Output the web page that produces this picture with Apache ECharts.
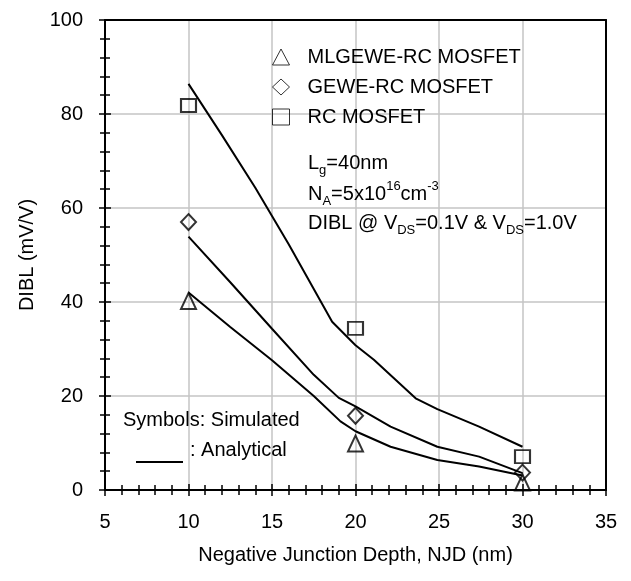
<!DOCTYPE html>
<html>
<head>
<meta charset="utf-8">
<script src="https://cdn.jsdelivr.net/npm/echarts@6/dist/echarts.min.js"></script>
<style>
  html, body { margin: 0; padding: 0; background: #fff; }
  #chart { width: 631px; height: 581px; }
</style>
</head>
<body>
<div id="chart"></div>
<script>
// simulated points (symbols)
var simX = [10, 20, 30];
var mlgeweSim = [40.2, 9.9, 1.6];
var geweSim = [57.0, 15.8, 3.7];
var rcSim = [81.8, 34.4, 7.1];

// analytical curves (lines)
var rcLineX = [10, 12, 14, 16, 18.6, 20, 21.1, 23.6, 24.9, 27.4, 30];
var rcLineY = [86.4, 75.5, 64.3, 52.3, 35.8, 30.8, 27.7, 19.5, 17.2, 13.5, 9.2];
var geweLineX = [10, 12.5, 15, 17.5, 19, 20, 22.1, 24.9, 27.4, 30];
var geweLineY = [53.9, 44.2, 34.3, 24.5, 19.6, 17.8, 13.5, 9.2, 7.1, 3.6];
var mlgeweLineX = [10, 12.5, 15, 17.5, 19.1, 20, 22.1, 24.9, 27.4, 30];
var mlgeweLineY = [42.0, 34.7, 27.6, 20.0, 14.6, 12.5, 9.2, 6.4, 5.0, 3.1];

var xTicks = { min: 5, max: 35, interval: 5 };
var yTicks = { min: 0, max: 100, interval: 20 };

var FONT = 'Liberation Sans, Arial, sans-serif';

function pairs(xs, ys) {
  return xs.map(function (x, i) { return [x, ys[i]]; });
}

var hollow = { color: 'rgba(255,255,255,0)', borderColor: '#000', borderWidth: 2 };
var legendIcon = { color: 'rgba(255,255,255,0)', borderColor: '#000', borderWidth: 1 };
var tickLine = { color: '#000', width: 1.5 };

// border-only axis (top / right frame)
function frameAxis(pos, t) {
  return {
    type: 'value', position: pos,
    min: t.min, max: t.max, interval: t.interval,
    axisLine: { show: true, onZero: false, lineStyle: { color: '#000', width: 2 } },
    axisTick: { show: false }, axisLabel: { show: false }, splitLine: { show: false }
  };
}
// inward ticks, so the ticks cross the axis line like in the original
function innerTickAxis(pos, t) {
  return {
    type: 'value', position: pos, offset: 0,
    min: t.min, max: t.max, interval: t.interval,
    axisLine: { show: false },
    axisTick: { show: true, inside: true, length: 6, lineStyle: tickLine },
    minorTick: { show: true, splitNumber: 5, length: 5, lineStyle: tickLine },
    axisLabel: { show: false }, splitLine: { show: false }
  };
}

var chart = echarts.init(document.getElementById('chart'));

var option = {
  backgroundColor: '#fff',
  animation: false,
  textStyle: { fontFamily: FONT, color: '#000' },
  grid: {
    left: 105, right: 25, top: 20, bottom: 91,
    show: false
  },
  legend: {
    orient: 'vertical',
    left: 267,
    top: 42,
    itemWidth: 17,
    itemHeight: 16,
    itemGap: 10,
    textStyle: { fontSize: 20, fontFamily: FONT, color: '#000', padding: [0, 0, 0, 13] },
    data: [
      { name: 'MLGEWE-RC MOSFET', icon: 'triangle', itemStyle: legendIcon },
      { name: 'GEWE-RC MOSFET', icon: 'diamond', itemStyle: legendIcon },
      { name: 'RC MOSFET', icon: 'rect', itemStyle: legendIcon }
    ]
  },
  xAxis: [{
    type: 'value',
    min: xTicks.min, max: xTicks.max, interval: xTicks.interval,
    name: 'Negative Junction Depth, NJD (nm)',
    nameLocation: 'middle',
    nameGap: 55,
    nameTextStyle: { fontSize: 20, fontFamily: FONT, color: '#000' },
    axisLine: { show: true, onZero: false, lineStyle: { color: '#000', width: 2 } },
    axisTick: { show: true, inside: false, length: 6, lineStyle: tickLine },
    minorTick: { show: true, splitNumber: 5, length: 5, lineStyle: tickLine },
    axisLabel: { fontSize: 20, fontFamily: FONT, color: '#000', margin: 22 },
    splitLine: { show: true, lineStyle: { color: '#c4c4c4', width: 1.5 } }
  },
    frameAxis('top', xTicks),
    innerTickAxis('bottom', xTicks)
  ],
  yAxis: [{
    type: 'value',
    min: yTicks.min, max: yTicks.max, interval: yTicks.interval,
    name: 'DIBL (mV/V)',
    nameLocation: 'middle',
    nameGap: 68,
    nameTextStyle: { fontSize: 20, fontFamily: FONT, color: '#000' },
    axisLine: { show: true, onZero: false, lineStyle: { color: '#000', width: 2 } },
    axisTick: { show: true, inside: false, length: 6, lineStyle: tickLine },
    minorTick: { show: true, splitNumber: 5, length: 5, lineStyle: tickLine },
    axisLabel: { fontSize: 20, fontFamily: FONT, color: '#000', margin: 22 },
    splitLine: { show: true, lineStyle: { color: '#c4c4c4', width: 1.5 } }
  },
    frameAxis('right', yTicks),
    innerTickAxis('left', yTicks)
  ],
  series: [
    {
      name: 'RC line', type: 'line', data: pairs(rcLineX, rcLineY),
      showSymbol: false, lineStyle: { color: '#000', width: 2 }, z: 3
    },
    {
      name: 'GEWE line', type: 'line', data: pairs(geweLineX, geweLineY),
      showSymbol: false, lineStyle: { color: '#000', width: 2 }, z: 3
    },
    {
      name: 'MLGEWE line', type: 'line', data: pairs(mlgeweLineX, mlgeweLineY),
      showSymbol: false, lineStyle: { color: '#000', width: 2 }, z: 3
    },
    {
      name: 'MLGEWE-RC MOSFET', type: 'scatter', data: pairs(simX, mlgeweSim),
      symbol: 'triangle', symbolSize: [15, 16], itemStyle: hollow, z: 4
    },
    {
      name: 'GEWE-RC MOSFET', type: 'scatter', data: pairs(simX, geweSim),
      symbol: 'diamond', symbolSize: [15, 16], itemStyle: hollow, z: 4
    },
    {
      name: 'RC MOSFET', type: 'scatter', data: pairs(simX, rcSim),
      symbol: 'rect', symbolSize: [15, 13], itemStyle: hollow, z: 4
    }
  ],
  graphic: [
    {
      type: 'text', left: 308, top: 153, z: 10,
      style: {
        text: '{n|L}{sub|g}{n|=40nm}',
        rich: {
          n: { fontSize: 20, lineHeight: 28, fontFamily: FONT, fill: '#000' },
          sub: { fontSize: 13, lineHeight: 13, verticalAlign: 'bottom', fontFamily: FONT, fill: '#000' }
        }
      }
    },
    {
      type: 'text', left: 308, top: 180, z: 10,
      style: {
        text: '{n|N}{sub|A}{n|=5x10}{sup|16}{n|cm}{sup|-3}',
        rich: {
          n: { fontSize: 20, lineHeight: 28, fontFamily: FONT, fill: '#000' },
          sub: { fontSize: 13, lineHeight: 13, verticalAlign: 'bottom', fontFamily: FONT, fill: '#000' },
          sup: { fontSize: 13, lineHeight: 13, verticalAlign: 'top', fontFamily: FONT, fill: '#000' }
        }
      }
    },
    {
      type: 'text', left: 308, top: 213, z: 10,
      style: {
        text: '{n|DIBL @ V}{sub|DS}{n|=0.1V & V}{sub|DS}{n|=1.0V}',
        rich: {
          n: { fontSize: 20, lineHeight: 28, fontFamily: FONT, fill: '#000' },
          sub: { fontSize: 13, lineHeight: 13, verticalAlign: 'bottom', fontFamily: FONT, fill: '#000' }
        }
      }
    },
    {
      type: 'text', left: 123, top: 410, z: 10,
      style: { text: 'Symbols: Simulated', font: '20px ' + FONT, fill: '#000' }
    },
    {
      type: 'text', left: 190, top: 440, z: 10,
      style: { text: ': Analytical', font: '20px ' + FONT, fill: '#000' }
    },
    {
      type: 'line', z: 10,
      shape: { x1: 136, y1: 462, x2: 183, y2: 462 },
      style: { stroke: '#000', lineWidth: 2 }
    }
  ]
};

chart.setOption(option);
</script>
</body>
</html>
